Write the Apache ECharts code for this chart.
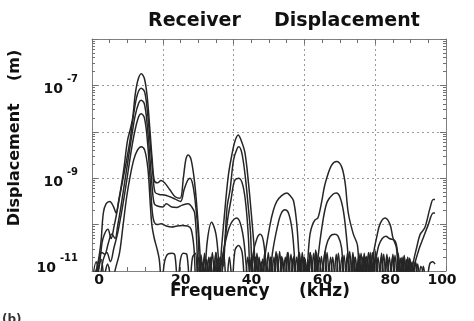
<!DOCTYPE html>
<html>
<head>
<meta charset="utf-8">
<script src="https://cdn.jsdelivr.net/npm/echarts@6/dist/echarts.min.js"></script>
<style>
  html, body { margin: 0; padding: 0; background: #fff; }
  #chart { width: 474px; height: 321px; }
</style>
</head>
<body>
<div id="chart"></div>
<script>
// each curve: [frequency (kHz), log10 of displacement (m)]
const curve1 = [[0,-11.3],[1.5,-10.9],[2.5,-10.4],[3.2,-9.75],[4,-9.55],[5,-9.5],[6,-9.6],[6.8,-9.75],[7.5,-9.5],[8.3,-9.15],[9,-8.8],[10,-8.2],[10.8,-7.95],[11.5,-7.7],[12.2,-7.2],[13,-6.88],[13.9,-6.75],[14.8,-6.85],[15.6,-7.25],[16.3,-7.9],[17,-8.6],[17.6,-9.05],[18.5,-9.1],[19.5,-9.05],[20.5,-9.1],[22,-9.25],[23.5,-9.4],[24.9,-9.43],[25.8,-9.0],[26.5,-8.6],[27.2,-8.5],[28,-8.6],[29,-9.1],[29.8,-9.8],[30.5,-10.6],[31,-11.3],[31.8,-10.7],[32.6,-11.3],[33.4,-10.8],[34.2,-11.3],[35,-10.6],[35.8,-11.3],[36.6,-10.5],[37.4,-9.8],[38.5,-8.95],[39.5,-8.5],[40.4,-8.2],[41.3,-8.07],[42.2,-8.2],[43.2,-8.45],[44.2,-9.1],[45.1,-9.85],[45.8,-10.5],[46.4,-11.3],[47.2,-10.7],[48,-11.3],[49,-10.6],[50.3,-10.0],[51.2,-9.7],[52.2,-9.5],[53.5,-9.38],[55,-9.32],[56,-9.38],[56.9,-9.48],[57.8,-9.95],[58.4,-10.6],[58.9,-11.3],[59.6,-10.7],[60.4,-11.3],[61.2,-10.5],[61.6,-10.2],[62.3,-10.0],[63,-9.9],[63.8,-9.86],[64.9,-9.5],[65.6,-9.2],[66.3,-9.0],[67.7,-8.72],[69.1,-8.64],[70.5,-8.75],[71.5,-9.1],[72.4,-9.75],[73.8,-10.2],[75,-10.45],[75.7,-11.3],[76.5,-10.7],[77.3,-11.3],[78.1,-10.6],[78.9,-11.3],[79.6,-10.6],[80.4,-10.28],[81.4,-9.98],[82.8,-9.86],[84.2,-10.0],[85,-10.28],[86,-10.5],[86.8,-11.3],[87.6,-10.7],[88.4,-11.3],[89.2,-10.7],[90,-11.3],[90.8,-10.8],[91.7,-10.5],[92.7,-10.21],[94,-10.07],[95.5,-9.64],[96.4,-9.46],[96.9,-9.46]];

const curve2 = [[0,-11.3],[1.8,-11.0],[2.5,-10.6],[3.1,-10.3],[4.5,-10.1],[5.4,-10.3],[6.2,-10.05],[7,-9.75],[7.8,-9.4],[8.8,-9.0],[9.8,-8.6],[10.8,-8.15],[11.8,-7.6],[12.8,-7.2],[13.9,-7.06],[14.9,-7.15],[15.7,-7.6],[16.5,-8.3],[17.2,-8.9],[17.8,-9.3],[19,-9.35],[20.5,-9.36],[22,-9.4],[23.5,-9.45],[25,-9.5],[26,-9.25],[27,-9.05],[27.7,-9.0],[28.5,-9.15],[29.3,-9.6],[30,-10.2],[30.6,-11.3],[31.4,-10.8],[32.2,-11.3],[33,-10.7],[33.8,-11.3],[34.6,-10.8],[35.4,-11.3],[36.2,-10.7],[37,-10.9],[37.6,-10.3],[38.2,-9.6],[39,-9.25],[40,-8.6],[41,-8.36],[41.5,-8.32],[42.3,-8.45],[43.2,-8.9],[44,-9.5],[44.8,-10.2],[45.4,-11.3],[46.2,-10.7],[47,-11.3],[47.8,-10.8],[48.6,-11.3],[49.4,-10.9],[50.2,-11.2],[51,-10.6],[52.5,-10.0],[53.5,-9.75],[54.5,-9.68],[55.5,-9.75],[56.5,-10.1],[57.2,-10.7],[57.7,-11.3],[58.5,-10.7],[59.3,-11.3],[60.1,-10.8],[60.9,-11.3],[61.7,-10.6],[62.5,-11.3],[63.5,-10.9],[64.5,-10.3],[65.5,-9.8],[66.5,-9.5],[68,-9.35],[69,-9.32],[70,-9.4],[71,-9.7],[71.8,-10.2],[72.5,-10.8],[73.2,-11.3],[74,-10.7],[74.8,-11.3],[75.6,-10.8],[76.4,-11.3],[77.2,-10.7],[78,-11.3],[78.8,-10.8],[79.5,-10.9],[81,-10.45],[82,-10.3],[83,-10.25],[84,-10.3],[85.6,-10.35],[86.3,-10.6],[87,-11.3],[87.8,-10.8],[88.6,-11.3],[89.4,-10.8],[90.2,-11.3],[91,-10.9],[92.5,-10.5],[93.5,-10.3],[95,-10.0],[96.4,-9.75],[96.9,-9.75]];

const curve3 = [[0,-11.3],[1.5,-10.9],[2.8,-10.6],[3.6,-10.64],[4.6,-10.4],[5.6,-10.2],[6.5,-10.3],[7.3,-10.0],[8.2,-9.6],[9.2,-9.1],[10.2,-8.6],[11.2,-8.1],[12.2,-7.65],[13.2,-7.38],[13.9,-7.32],[14.8,-7.4],[15.6,-7.85],[16.4,-8.6],[17,-9.2],[17.6,-9.55],[18.5,-9.6],[20,-9.62],[21,-9.55],[22.5,-9.62],[24,-9.63],[25.5,-9.58],[27.2,-9.55],[28.2,-9.62],[29,-9.75],[29.6,-10.4],[30.1,-11.3],[30.9,-10.8],[31.7,-11.3],[32.5,-10.4],[33.8,-9.95],[35,-10.2],[35.8,-10.8],[36.4,-11.3],[37.2,-10.6],[38.3,-9.9],[39.3,-9.45],[40.3,-9.05],[41.5,-9.0],[42.6,-9.15],[43.5,-9.6],[44.2,-10.3],[44.8,-11.3],[45.6,-10.6],[46.6,-10.3],[47.5,-10.21],[48.4,-10.35],[49.2,-10.9],[49.8,-11.3],[50.6,-10.7],[51.4,-11.3],[52.2,-10.62],[53,-11.3],[53.8,-10.72],[54.6,-11.3],[55.4,-10.6],[56.2,-11.3],[57,-10.68],[57.8,-11.3],[58.6,-10.6],[59.4,-11.3],[60.2,-10.74],[61,-11.3],[61.8,-10.66],[62.6,-11.3],[63.4,-10.6],[64.3,-11.3],[65.2,-10.9],[66.2,-10.45],[67.3,-10.25],[68.5,-10.21],[69.5,-10.25],[70.5,-10.5],[71.3,-11.3],[72.1,-10.7],[72.9,-11.3],[73.7,-10.6],[74.5,-11.3],[75.3,-10.72],[76.1,-11.3],[76.9,-10.62],[77.7,-11.3],[78.5,-10.7],[79.3,-11.3],[80.1,-10.58],[80.9,-11.3],[81.7,-10.7],[82.5,-11.3],[83.3,-10.64],[84.1,-11.3],[84.9,-10.7],[85.7,-11.3],[86.5,-10.62],[87.3,-11.3],[88.1,-10.7],[88.9,-11.3],[89.7,-10.72],[90.5,-11.3],[91.3,-10.8],[92.1,-11.3],[92.9,-10.9],[94,-11.3]];

const curve4 = [[0,-11.3],[1.2,-10.8],[2.2,-11.1],[3.2,-10.75],[4.2,-10.6],[5.2,-10.8],[6.2,-10.5],[7.2,-10.2],[8.2,-9.8],[9.2,-9.35],[10.2,-8.85],[11.2,-8.35],[12.2,-7.95],[13.2,-7.67],[13.9,-7.61],[14.8,-7.7],[15.6,-8.15],[16.4,-9.0],[17,-9.7],[17.6,-9.95],[18.5,-10.0],[19.5,-9.98],[21,-10.03],[22.5,-10.05],[24,-10.03],[25.5,-10.02],[27,-10.03],[28,-10.1],[28.8,-10.5],[29.4,-11.3],[30.2,-10.7],[31,-11.3],[31.8,-10.62],[32.6,-11.3],[33.4,-10.7],[34.2,-11.3],[35,-10.6],[35.8,-11.3],[36.6,-10.8],[37.6,-10.4],[38.6,-10.1],[39.6,-9.93],[40.8,-9.86],[41.8,-9.95],[42.8,-10.3],[43.6,-10.9],[44.2,-11.3],[45,-10.7],[45.8,-11.3],[46.6,-10.62],[47.4,-11.3],[48.2,-10.74],[49,-11.3],[49.8,-10.6],[50.6,-11.3],[51.4,-10.7],[52.2,-11.3],[53,-10.58],[53.8,-11.3],[54.6,-10.7],[55.4,-11.3],[56.2,-10.64],[57,-11.3],[57.8,-10.7],[58.6,-11.3],[59.4,-10.6],[60.2,-11.3],[61,-10.76],[61.8,-11.3],[62.6,-10.62],[63.4,-11.3],[64.2,-10.7],[65,-11.3],[65.8,-10.58],[66.6,-11.3],[67.4,-10.7],[68.2,-11.3],[69,-10.64],[69.8,-11.3],[70.6,-10.7],[71.4,-11.3],[72.2,-10.6],[73,-11.3],[73.8,-10.72],[74.6,-11.3],[75.4,-10.62],[76.2,-11.3],[77,-10.7],[77.8,-11.3],[78.6,-10.6],[79.4,-11.3],[80.2,-10.68],[81,-11.3],[81.8,-10.62],[82.6,-11.3],[83.4,-10.72],[84.2,-11.3],[85,-10.64],[85.8,-11.3],[86.6,-10.7],[87.4,-11.3],[88.2,-10.66],[89,-11.3],[89.8,-10.74],[90.6,-11.3],[91.4,-10.8],[92.2,-11.3]];

const curve5 = [[0,-11.3],[1.5,-11.0],[2.6,-10.75],[3.4,-11.1],[4.4,-10.85],[5.6,-11.2],[6.8,-10.9],[7.8,-10.6],[8.8,-10.0],[9.8,-9.4],[10.8,-8.95],[11.8,-8.6],[12.8,-8.4],[13.9,-8.32],[14.9,-8.4],[15.8,-8.8],[16.5,-9.6],[16.9,-10.0],[17.6,-10.3],[18.3,-10.5],[19,-10.75],[19.7,-11.3],[20.5,-10.8],[21.5,-10.63],[22.5,-10.62],[23.4,-10.66],[24.2,-11.3],[25,-10.75],[25.8,-10.62],[26.8,-10.65],[27.6,-11.3],[28.4,-10.7],[29.2,-10.62],[30,-11.3],[30.8,-10.65],[31.6,-11.3],[32.4,-10.75],[33.2,-11.3],[34,-10.6],[34.8,-11.3],[35.6,-10.72],[36.4,-11.3],[37.2,-10.62],[38,-11.3],[38.8,-10.7],[39.6,-11.2],[40.4,-10.55],[41.4,-10.45],[42.4,-10.6],[43.2,-11.3],[44,-10.7],[44.8,-11.3],[45.6,-10.62],[46.4,-11.3],[47.2,-10.75],[48,-11.3],[48.8,-10.6],[49.6,-11.3],[50.4,-10.7],[51.2,-11.3],[52,-10.58],[52.8,-11.3],[53.6,-10.68],[54.4,-11.3],[55.2,-10.6],[56,-11.3],[56.8,-10.72],[57.6,-11.3],[58.4,-10.62],[59.2,-11.3],[60,-10.7],[60.8,-11.3],[61.6,-10.6],[62.4,-11.3],[63.2,-10.55],[64,-11.3],[64.8,-10.68],[65.6,-11.3],[66.4,-10.6],[67.2,-11.3],[68,-10.7],[68.8,-11.3],[69.6,-10.62],[70.4,-11.3],[71.2,-10.66],[72,-11.3],[72.8,-10.58],[73.6,-11.3],[74.4,-10.7],[75.2,-11.3],[76,-10.62],[76.8,-11.3],[77.6,-10.68],[78.4,-11.3],[79.2,-10.6],[80,-11.3],[80.8,-10.7],[81.6,-11.3],[82.4,-10.64],[83.2,-11.3],[84,-10.7],[84.8,-11.3],[85.6,-10.66],[86.4,-11.3],[87.2,-10.72],[88,-11.3],[88.8,-10.75],[89.6,-11.3],[90.4,-10.8],[91.2,-11.3],[92,-10.85],[92.8,-11.3],[93.6,-10.9],[94.4,-11.3],[95.4,-10.85],[96.3,-10.8],[96.9,-10.85]];

const curves = [curve1, curve2, curve3, curve4, curve5];
const xTicks = [0, 20, 40, 60, 80, 100];
const yLabelExponents = [-11, -9, -7];

const FONT = 'DejaVu Sans';

// minor ticks of the log axis: 2..9 in every decade, in log10 units
const minorTicks = [];
for (let e = -11; e < -6; e++) {
  for (let k = 2; k <= 9; k++) minorTicks.push(e + Math.log10(k));
}

const frameLine = { show: true, lineStyle: { color: '#808080', width: 1 } };
const gridDots = { show: true, lineStyle: { color: '#9a9a9a', width: 1, type: [2, 3] } };
const tickStyle = { color: '#707070', width: 1 };

// label nudges so the numbers sit where the scan has them
const xLabelSpacer = { 0: 'l14', 20: 'l36', 40: 'l36', 60: 'l36', 80: 'l30', 100: 'r8' };

const chart = echarts.init(document.getElementById('chart'));

chart.setOption({
  animation: false,
  backgroundColor: '#fff',
  title: {
    text: 'Receiver     Displacement',
    left: 143,
    top: 7,
    textStyle: { fontFamily: FONT, fontWeight: 'bold', fontSize: 19, color: '#111' }
  },
  grid: { left: 92, right: 28, top: 39, bottom: 50 },
  xAxis: [
    {
      type: 'value',
      min: 0,
      max: 100,
      interval: 20,
      position: 'bottom',
      axisLine: frameLine,
      axisTick: { show: true, inside: true, length: 5, lineStyle: tickStyle },
      minorTick: { show: true, splitNumber: 4, length: 4, lineStyle: tickStyle },
      splitLine: gridDots,
      axisLabel: {
        margin: 2,
        customValues: xTicks,
        formatter: v => {
          const sp = xLabelSpacer[v];
          if (sp && sp[0] === 'r') return '{n|' + v + '}{' + sp + '| }';
          return '{' + sp + '| }{n|' + v + '}';
        },
        rich: {
          n: { fontFamily: FONT, fontWeight: 'bold', fontSize: 14, color: '#111' },
          l14: { width: 14 },
          l30: { width: 30 },
          l36: { width: 36 },
          r8: { width: 8 }
        }
      }
    },
    {
      type: 'value',
      min: 0,
      max: 100,
      interval: 20,
      position: 'top',
      axisLine: frameLine,
      axisTick: { show: true, inside: true, length: 5, lineStyle: tickStyle },
      minorTick: { show: true, splitNumber: 4, length: 4, lineStyle: tickStyle },
      splitLine: { show: false },
      axisLabel: { show: false }
    }
  ],
  yAxis: [
    {
      type: 'log',
      logBase: 10,
      min: 1e-11,
      max: 1e-6,
      splitNumber: 5,
      position: 'left',
      axisLine: frameLine,
      axisTick: { show: true, inside: true, length: 6, lineStyle: tickStyle },
      splitLine: gridDots,
      axisLabel: {
        margin: 14,
        formatter: v => {
          const e = Math.round(Math.log10(v));
          if (!yLabelExponents.includes(e)) return '';
          // the bottom label sits a little above its tick in the scan
          return (e === -11 ? '{bl|10}' : '{b|10}') + '{e|' + e + '}';
        },
        rich: {
          b: { fontFamily: FONT, fontWeight: 'bold', fontSize: 14, color: '#111', padding: [8, 0, 0, 0], verticalAlign: 'bottom' },
          bl: { fontFamily: FONT, fontWeight: 'bold', fontSize: 14, color: '#111', padding: [8, 0, 14, 0], verticalAlign: 'bottom' },
          e: { fontFamily: FONT, fontWeight: 'bold', fontSize: 10, color: '#111', padding: [0, 0, 0, 4], verticalAlign: 'top' }
        }
      }
    },
    {
      type: 'value',
      min: -11,
      max: -6,
      position: 'left',
      axisLine: { show: false },
      axisTick: { show: true, inside: true, length: 3, customValues: minorTicks, lineStyle: tickStyle },
      axisLabel: { show: false },
      splitLine: { show: false }
    },
    {
      type: 'log',
      logBase: 10,
      min: 1e-11,
      max: 1e-6,
      splitNumber: 5,
      position: 'right',
      axisLine: frameLine,
      axisTick: { show: true, inside: true, length: 6, lineStyle: tickStyle },
      axisLabel: { show: false },
      splitLine: { show: false }
    },
    {
      type: 'value',
      min: -11,
      max: -6,
      position: 'right',
      axisLine: { show: false },
      axisTick: { show: true, inside: true, length: 3, customValues: minorTicks, lineStyle: tickStyle },
      axisLabel: { show: false },
      splitLine: { show: false }
    }
  ],
  graphic: [
    {
      type: 'text',
      x: 15,
      y: 138,
      rotation: Math.PI / 2,
      style: {
        text: 'Displacement    (m)',
        fontFamily: FONT,
        fontWeight: 'bold',
        fontSize: 16,
        fill: '#111',
        align: 'center',
        verticalAlign: 'middle'
      }
    },
    {
      type: 'text',
      x: 260,
      y: 292,
      style: {
        text: 'Frequency     (kHz)',
        fontFamily: FONT,
        fontWeight: 'bold',
        fontSize: 17,
        fill: '#111',
        align: 'center',
        verticalAlign: 'middle'
      }
    },
    {
      type: 'text',
      x: 2,
      y: 314,
      style: { text: '(b)', fontFamily: FONT, fontWeight: 'bold', fontSize: 12, fill: '#333' }
    }
  ],
  series: curves.map(c => ({
    type: 'line',
    xAxisIndex: 0,
    yAxisIndex: 0,
    data: c.map(p => [p[0], Math.pow(10, p[1])]),
    symbol: 'none',
    smooth: 0.35,
    silent: true,
    lineStyle: { color: '#262626', width: 1.5 }
  }))
});
</script>
</body>
</html>
